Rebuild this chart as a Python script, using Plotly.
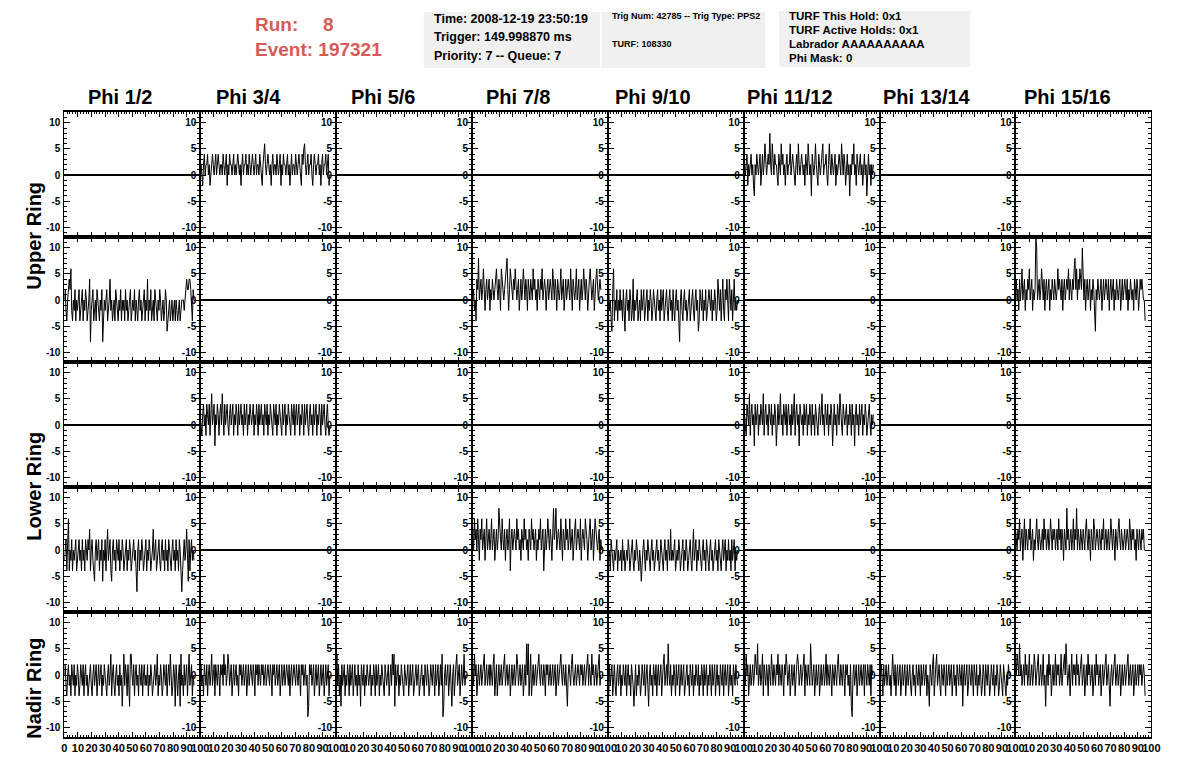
import numpy as np
import plotly.graph_objects as go

# ---------------- data ----------------
phi_labels = ["Phi 1/2", "Phi 3/4", "Phi 5/6", "Phi 7/8",
              "Phi 9/10", "Phi 11/12", "Phi 13/14", "Phi 15/16"]
ring_labels = ["Upper Ring", "Lower Ring", "Nadir Ring"]
x_tick_vals = [0, 10, 20, 30, 40, 50, 60, 70, 80, 90, 100]
y_tick_vals = [-10, -5, 0, 5, 10]
sample_ns = 0.6  # time step between samples (ns)

header_run = "8"
header_event = "197321"
info_box1 = ["Time: 2008-12-19 23:50:19", "Trigger: 149.998870 ms", "Priority: 7 -- Queue: 7"]
info_box2 = ["Trig Num: 42785 -- Trig Type: PPS2", "TURF: 108330"]
info_box3 = ["TURF This Hold: 0x1", "TURF Active Holds: 0x1", "Labrador AAAAAAAAAA", "Phi Mask: 0"]

# row 1 (upper ring, top antennas)
up_top_phi34 = [0,2,0,-2,2,4,0,2,2,4,0,2,-2,0,2,4,2,0,2,4,
                0,2,4,2,0,2,2,0,4,2,0,2,4,-2,2,0,4,2,2,0,
                2,4,0,2,0,2,4,2,0,2,-2,2,4,0,2,2,4,0,2,0,
                4,2,0,2,4,2,0,2,4,0,2,2,0,4,2,0,-2,2,4,6,
                2,0,2,4,2,0,2,-2,2,4,0,2,2,0,4,2,0,2,4,-2,
                2,0,4,2,2,0,2,4,0,2,-2,2,4,0,2,2,0,4,2,0,
                2,4,2,0,-2,4,2,5,6,2,0,2,4,0,2,2,4,0,-2,2,
                4,2,0,2,2,4,0,2,-2,2,4,0,2,2,4,0,2,4,-2,0]
up_top_phi1112 = [4,2,0,2,4,-2,2,0,2,4,0,2,-2,-4,2,0,4,2,0,2,
                  4,-2,2,4,0,2,6,2,0,2,4,2,8,2,0,6,2,0,4,2,
                  2,0,-2,4,2,0,6,2,4,0,2,-2,2,4,0,2,2,6,0,2,
                  4,2,0,-2,2,4,0,6,2,0,2,4,2,0,2,-2,4,2,0,6,
                  2,0,2,-4,4,2,0,2,6,2,0,-2,4,2,0,2,4,6,0,2,
                  2,4,0,-2,2,6,2,0,4,2,0,2,4,-2,2,0,2,4,2,0,
                  6,2,0,4,2,-2,2,4,0,2,-4,2,0,4,2,6,0,2,-2,4,
                  2,0,2,4,0,2,-2,2,4,0,2,-4,2,4,0,2,-2,2,0,2]
# row 2 (upper ring, bottom antennas)
up_bot_phi12 = [0,2,-2,-4,0,2,4,2,6,-2,-4,0,-2,2,-4,0,-2,0,2,-4,
                -2,0,2,-4,0,-2,2,0,-4,-2,0,4,-8,-2,0,2,-4,-2,0,-4,
                2,0,-2,-4,0,-2,2,-8,-4,0,-2,0,2,-4,-2,0,4,-2,0,-4,
                -2,0,-4,2,0,-2,-4,0,-2,2,-4,0,-2,0,-4,2,-2,0,-4,-2,
                0,2,-4,-2,0,-2,2,-4,0,-2,-4,0,2,-2,0,-4,-2,0,2,-4,
                0,-2,4,-4,0,-2,2,-4,-2,0,-4,2,0,-2,-4,0,-2,2,0,-4,
                -2,0,-4,-2,2,0,-6,-4,-2,0,-4,-2,0,-4,-2,0,-4,0,-2,-4,
                -2,0,-4,-2,0,0,0,-2,0,2,4,2,2,4,4,2,-2,-4,2,0]
up_bot_phi78 = [2,0,2,-2,0,-4,4,2,8,0,2,4,0,2,6,2,-2,2,4,0,
                2,4,-2,2,0,4,2,0,2,4,6,2,0,4,2,-2,6,4,2,0,
                2,4,6,8,2,-2,2,6,4,2,0,4,2,6,2,0,2,4,-2,2,
                4,0,2,6,2,0,4,2,-2,4,2,0,4,2,0,6,2,4,0,2,
                -2,4,2,0,4,2,6,0,2,4,2,-2,2,4,0,2,4,2,0,6,
                2,0,4,2,-2,4,2,0,2,6,0,2,4,-2,2,4,0,2,4,2,
                0,6,2,-2,4,2,0,2,6,0,2,4,-2,2,4,0,2,6,2,0,
                4,2,-2,2,4,6,2,0,2,4,-2,2,4,6,2,0,2,4,2,2]
up_bot_phi910 = [0,2,-2,0,-4,-6,2,6,-4,0,-2,2,-4,0,-2,2,-2,0,-4,2,
                 -2,-6,0,2,-2,0,-4,2,0,-4,-2,4,-4,0,-2,0,2,-4,-2,0,
                 -4,2,-2,0,2,-4,-2,0,2,-4,0,-2,2,0,-4,-2,2,0,-2,-4,
                 0,2,-2,0,-4,2,-2,0,2,-4,-2,0,2,-2,-4,0,2,-2,0,-4,
                 2,-2,-4,0,2,-2,0,-4,-8,0,2,-2,-4,0,2,-2,0,-4,-2,0,
                 2,-4,-2,0,2,-2,-4,0,2,-2,0,-6,-4,2,0,-2,2,-4,0,-2,
                 2,-4,-2,0,2,0,-2,2,-4,0,-2,2,0,-4,-2,4,0,-2,2,-4,
                 0,4,-2,-4,2,0,4,-2,-4,4,0,-2,2,-4,0,4,-2,0,-2,0]
up_bot_phi1516 = [2,4,0,2,-2,4,0,2,6,0,2,4,-2,2,0,4,2,6,0,2,
                  4,-2,2,0,2,12,10,0,2,4,0,2,6,2,0,4,-2,2,4,0,
                  2,4,-2,2,0,4,2,0,4,2,0,2,6,2,4,2,0,4,-2,2,
                  4,0,2,4,2,6,0,4,2,0,4,2,6,8,2,6,0,4,2,6,
                  4,2,10,2,0,4,-2,2,4,0,2,4,-2,2,0,4,2,-2,-6,2,
                  0,4,2,0,2,4,-2,2,4,0,2,4,2,0,4,-2,2,4,0,2,
                  4,-2,2,0,4,2,0,2,4,-2,2,4,0,2,4,2,0,4,-2,2,
                  0,4,2,0,2,-2,4,2,0,4,2,-2,2,4,2,4,2,0,0,-4]
# row 3 (lower ring, top antennas)
lo_top_phi34 = [2,0,-2,2,4,0,2,-2,4,2,0,4,-2,2,6,0,2,4,-4,2,
                0,4,2,-2,2,4,0,6,2,-2,4,0,2,4,0,-2,2,4,0,2,
                4,-2,2,0,4,2,-2,4,0,2,4,0,2,-2,4,0,2,4,-2,2,
                0,4,2,0,2,4,-2,2,0,4,2,-2,4,0,2,4,0,2,-2,4,
                2,0,4,-2,2,0,4,2,0,-2,4,2,0,4,-2,2,0,4,2,0,
                -2,4,0,2,4,-2,2,0,4,2,0,-2,4,2,0,4,-2,2,4,0,
                2,4,-2,2,0,4,2,-2,4,0,2,4,0,-2,2,4,0,2,-2,4,
                0,2,4,-2,2,0,4,2,-2,4,0,2,4,0,-2,2,4,0,-2,0]
lo_top_phi1112 = [4,2,0,-2,4,2,0,6,-2,2,4,0,2,-4,4,0,2,4,-2,2,
                  0,4,2,0,6,-2,2,4,0,2,-2,4,2,0,4,-2,2,0,4,2,
                  -4,2,4,0,2,6,0,2,-2,4,2,0,4,-2,2,4,0,2,-2,4,
                  0,2,6,-2,2,4,0,2,-4,4,2,0,2,-2,4,0,2,4,-2,2,
                  0,4,2,-2,4,0,2,-2,4,2,0,-2,2,4,0,2,6,0,2,-2,
                  4,2,0,4,-2,2,0,4,2,-4,2,4,0,2,-2,4,2,0,6,2,
                  0,-2,4,2,0,2,4,-2,2,0,4,2,-2,4,0,2,-4,2,4,0,
                  2,-2,4,0,2,4,-2,2,0,4,2,-2,0,2,4,0,-2,2,0,2]
# row 4 (lower ring, bottom antennas)
lo_bot_phi12 = [-2,0,2,-4,2,6,-4,0,-2,2,-4,0,-2,0,2,-4,-2,0,2,-2,
                0,-4,2,-2,0,-4,2,0,-2,2,0,4,-4,0,2,-2,-4,-6,0,2,
                -2,0,2,-4,0,-2,2,-6,0,-2,2,-4,0,4,-2,0,2,-4,-6,0,
                2,-2,0,-4,2,0,-2,2,-4,0,-2,2,0,-4,-2,0,2,-4,0,-2,
                2,0,-4,-2,0,2,-2,0,-4,-8,0,2,-4,0,-2,2,0,-4,-2,0,
                2,-4,0,-2,2,0,-4,-2,0,4,-2,0,2,-4,-2,0,2,-2,-4,0,
                2,-2,0,-4,2,-2,0,-4,2,0,-2,-4,0,2,-2,0,-4,2,-2,0,
                -4,2,0,-6,-8,-4,0,2,-2,0,4,-2,-6,2,-4,0,2,-2,0,-2]
lo_bot_phi78 = [2,4,0,6,2,4,0,6,2,-2,4,2,6,0,2,4,-2,2,6,0,
                2,4,0,2,6,0,2,4,-2,2,4,0,2,8,4,2,0,6,2,0,
                4,-2,2,4,0,2,6,-4,2,4,0,2,4,2,0,6,2,4,0,2,
                -2,4,2,0,6,2,4,0,2,-2,4,2,0,6,2,4,0,2,4,-2,
                2,0,4,2,6,0,2,4,-4,2,4,0,2,6,2,0,4,2,-2,4,
                8,2,4,8,0,2,4,2,0,6,2,-2,4,2,0,6,2,4,0,2,
                6,0,2,4,-2,2,4,6,0,2,4,2,0,6,-2,2,4,2,0,6,
                4,2,-2,2,4,6,0,2,4,-2,2,6,4,2,0,2,4,-2,2,0]
lo_bot_phi910 = [0,-2,0,-4,2,0,-2,-4,0,-2,0,2,-4,0,-2,-2,0,-4,2,-2,
                 0,-4,-2,0,-2,2,0,-4,-2,0,2,-2,-4,0,-2,2,0,-2,-4,0,
                 -2,-6,-2,0,2,-2,-4,0,-2,2,0,-2,-4,0,2,-2,0,-4,-2,0,
                 2,-2,0,-4,-2,2,0,-2,-4,0,2,-2,0,-4,2,0,-2,4,-2,0,
                 -2,0,2,-4,-2,0,-2,2,0,-4,-2,0,2,-4,0,-2,2,0,-4,-2,
                 0,2,-2,-4,0,4,-2,0,2,-4,0,-2,2,0,-2,-4,0,2,-2,0,
                 -4,2,0,-2,-4,0,2,-2,0,-4,-2,0,2,-2,0,-4,2,0,-2,-4,
                 0,2,-2,0,2,-4,0,-2,2,-2,0,-4,2,-2,0,2,-4,0,-2,0]
lo_bot_phi1516 = [4,2,0,4,2,6,0,2,4,-2,2,6,0,4,2,0,4,2,6,0,
                  2,4,-2,2,0,4,6,2,0,4,2,0,2,4,0,6,2,4,0,2,
                  4,0,2,6,2,0,4,2,4,0,2,4,0,6,2,4,0,4,2,-2,
                  4,2,0,8,2,4,0,2,4,0,2,6,0,4,2,8,0,4,2,0,
                  4,2,0,4,2,0,4,6,2,0,4,2,-2,4,2,0,6,4,0,2,
                  4,2,0,4,2,0,4,2,6,0,2,4,0,2,4,0,2,6,2,0,
                  4,2,-2,4,2,0,4,6,2,0,4,2,0,2,4,0,2,4,2,0,
                  6,2,0,4,2,4,0,2,-2,4,2,0,4,2,0,4,2,4,0,0]
# row 5 (nadir ring)
nadir_phi12 = [0,2,-2,-4,0,2,-2,0,-4,2,0,-2,2,-4,0,-2,2,0,-4,-2,
               2,0,-2,2,-4,0,2,-2,0,-4,-2,0,2,-2,-4,0,2,-2,0,2,
               -4,0,2,-2,0,2,-4,0,-2,2,0,-2,-4,0,2,-2,0,4,-4,0,
               2,-2,-4,0,2,-2,0,-4,2,-2,0,-6,0,4,-2,2,0,-4,2,-2,
               -6,4,4,0,-2,2,-4,0,2,-2,0,-4,2,0,-2,2,-4,0,2,-2,
               0,-2,2,-4,0,-2,2,0,-4,-2,0,2,-2,0,4,-4,0,-2,2,0,
               -4,-2,2,0,-2,2,-4,0,2,-2,4,0,-4,-2,2,0,-6,2,-2,-4,
               0,2,-6,4,-2,0,-4,2,-2,0,2,-4,0,4,-2,0,2,-4,0,-2]
nadir_phi34 = [0,2,-2,0,-4,2,0,-2,2,-4,0,2,-2,0,4,-2,0,2,-4,2,
               0,-2,2,0,-4,2,0,2,-2,4,0,2,-2,0,4,2,-2,0,2,-4,
               0,2,-2,0,2,-2,0,-4,2,0,2,-2,0,2,-2,0,2,-4,0,2,
               -2,0,2,0,-2,2,0,-4,2,0,2,-2,2,0,-2,2,0,2,-2,0,
               2,-2,0,2,0,-2,2,0,-4,2,0,2,-2,0,2,-2,0,2,-4,0,
               2,-2,0,2,-2,0,2,0,-2,2,-4,0,2,-2,0,2,0,-2,2,0,
               -2,2,0,-4,2,0,2,-2,0,2,-2,0,-8,-6,2,0,2,-2,0,2,
               -4,0,2,-2,0,2,-4,0,2,-2,0,2,-4,0,2,-2,0,2,-4,0]
nadir_phi56 = [0,4,-2,2,-4,0,-6,2,-2,0,2,-4,0,-2,2,0,-4,2,-2,0,
               2,-4,0,2,-2,0,-4,2,-2,0,-6,2,0,-2,2,-4,0,-2,2,0,
               -2,0,2,-4,0,-2,2,0,-4,2,-2,0,2,-4,0,-2,2,0,-2,-4,
               2,0,-2,0,2,-4,0,2,-2,4,0,4,-6,2,-2,0,2,-4,0,-2,
               2,0,-2,-4,2,0,-2,0,2,-4,0,2,-2,0,2,-4,-2,0,2,-2,
               0,2,-4,-2,0,2,-2,0,-4,2,0,-2,2,0,-4,-2,2,0,-2,2,
               0,-4,2,-2,0,2,-4,0,2,-2,4,-8,-6,0,2,-2,0,2,-4,0,
               2,-2,-6,0,2,-4,0,2,4,-2,0,2,-4,0,2,-2,0,4,-2,0]
nadir_phi78 = [0,2,-2,4,0,2,-4,0,2,-2,0,2,-2,0,2,4,-2,0,2,-2,
               0,2,-2,2,0,-2,2,4,-4,0,2,-4,0,2,-2,0,2,-2,0,2,
               4,-2,0,2,-2,0,2,-4,0,2,-2,0,2,-2,0,4,2,-2,0,2,
               -2,0,2,-4,0,2,-2,6,0,6,-4,2,4,-4,0,2,-2,0,2,-2,
               0,2,4,0,-2,2,0,-2,2,0,-4,2,0,2,-2,0,2,-2,0,2,
               -2,0,2,-4,0,2,-2,0,2,4,0,-2,2,0,-2,2,-4,-6,0,2,
               0,-2,2,4,0,-2,0,2,-2,0,2,0,-2,2,0,2,-2,0,2,-2,
               0,2,4,-2,2,0,-2,4,0,2,-2,0,2,-2,0,2,4,-2,0,0]
nadir_phi910 = [0,-4,2,-2,0,2,-4,0,2,-2,-4,0,2,-2,0,2,-4,0,-2,2,
                0,-2,2,-4,0,2,-2,0,-4,2,0,-2,-6,0,2,-4,0,-2,2,0,
                -4,-2,2,0,-2,2,-4,0,2,-2,-6,0,2,-2,0,-4,2,0,-2,2,
                -4,0,2,-2,0,2,-4,0,2,4,-2,0,2,-2,6,0,-2,2,-4,0,
                -2,2,0,-4,2,-2,0,2,-4,0,2,-2,0,2,-4,-2,0,2,-2,0,
                -4,2,0,-2,2,-4,0,-2,2,0,-2,2,-4,0,-2,2,0,-4,2,-2,
                0,2,-4,0,-2,2,0,-4,2,-2,0,2,-4,0,2,-2,0,-4,2,0,
                -2,2,-4,0,2,-2,0,2,-4,0,2,-2,0,-4,2,0,-2,2,0,-2]
nadir_phi1112 = [0,2,-2,4,0,2,-4,0,2,-2,0,2,-2,0,4,2,0,6,-2,0,
                 2,-2,0,4,-4,2,0,-2,2,0,-4,2,0,-2,4,0,-2,2,0,-2,
                 2,0,4,-2,2,0,-2,2,0,-4,2,0,4,2,-2,0,2,-4,0,2,
                 -2,0,2,-4,0,2,4,2,-2,0,2,-2,0,2,4,-4,2,0,-2,2,
                 0,-2,6,2,-2,0,2,-4,0,2,-2,0,2,-4,0,2,-2,0,2,-2,
                 0,4,-2,2,0,-2,2,0,-4,2,0,-2,2,0,-2,2,4,0,-2,2,
                 0,-2,2,0,-4,2,0,2,-2,0,-4,2,-6,-8,0,2,-2,0,2,-4,
                 0,2,-2,0,2,-2,0,2,-4,2,0,-2,2,0,-2,2,-4,2,0,0]
nadir_phi1314 = [0,-2,2,0,-4,2,-2,0,2,-2,0,2,-2,0,-4,2,4,0,-2,2,
                 -4,0,2,-2,0,2,-4,0,2,-2,0,2,-4,0,2,-2,0,2,-2,-4,
                 0,2,-2,0,-4,2,0,-2,2,0,-4,2,-2,0,2,-2,0,2,-4,0,
                 -2,-6,2,0,-2,2,4,-4,0,2,4,-2,0,2,-2,-4,2,0,-2,2,
                 0,-4,2,-2,0,2,-2,0,2,-4,0,2,-2,0,-4,2,0,-2,2,0,
                 -2,2,-6,0,2,-2,0,2,-4,-2,2,0,-2,2,0,-4,2,0,-2,2,
                 -4,0,-2,2,0,-4,-2,2,0,-4,2,0,-2,2,0,-4,-2,2,0,-2,
                 2,-4,0,-2,2,0,-4,-2,2,0,-2,-4,2,0,-2,-4,0,-2,2,0]
nadir_phi1516 = [2,0,4,2,0,6,0,2,-2,0,2,-2,4,0,2,-2,0,4,-2,0,
                 2,-2,0,4,2,-2,0,2,4,-2,0,2,-2,0,4,-2,0,-6,0,2,
                 -2,4,0,2,-4,0,2,-2,0,4,-2,2,0,2,-2,0,4,-2,0,2,
                 4,0,6,2,-2,0,2,-4,0,4,-2,2,0,2,-2,4,0,2,-2,0,
                 2,4,-2,0,2,-4,0,2,-2,4,0,2,-2,0,2,-4,0,2,-2,4,
                 0,2,-2,0,2,-4,0,2,-2,0,2,4,-2,0,2,-2,-6,0,2,-2,
                 0,2,4,-2,0,2,-2,0,2,-4,0,2,-2,0,2,-2,0,2,4,-2,
                 0,2,-2,0,2,-4,0,2,-2,0,2,-2,2,0,2,-2,0,2,0,-4]

# grid of channels: None = empty channel (flat)
grid = [
    [None, up_top_phi34, None, None, None, up_top_phi1112, None, None],
    [up_bot_phi12, None, None, up_bot_phi78, up_bot_phi910, None, None, up_bot_phi1516],
    [None, lo_top_phi34, None, None, None, lo_top_phi1112, None, None],
    [lo_bot_phi12, None, None, lo_bot_phi78, lo_bot_phi910, None, None, lo_bot_phi1516],
    [nadir_phi12, nadir_phi34, nadir_phi56, nadir_phi78,
     nadir_phi910, nadir_phi1112, nadir_phi1314, nadir_phi1516],
]

# ---------------- layout ----------------
W, H = 1196, 772
FONT = "Liberation Sans, Arial, Helvetica, sans-serif"
left0, colw = 62.0, 137.25
top0, rowh = 112.0, 125.0
nrows, ncols = 5, 8

def px_x(p):
    return p / W

def px_y(p):
    return 1 - p / H

fig = go.Figure()
layout = dict(
    width=W, height=H,
    margin=dict(l=0, r=0, t=0, b=0),
    paper_bgcolor="white", plot_bgcolor="white",
    showlegend=False,
    font=dict(family=FONT, color="black"),
)

for r in range(nrows):
    for c in range(ncols):
        n = r * ncols + c + 1
        xa = "x" if n == 1 else f"x{n}"
        ya = "y" if n == 1 else f"y{n}"
        xkey = "xaxis" if n == 1 else f"xaxis{n}"
        ykey = "yaxis" if n == 1 else f"yaxis{n}"
        wf = grid[r][c]
        flat = wf is None
        if flat:
            fig.add_trace(go.Scatter(x=[], y=[], xaxis=xa, yaxis=ya, mode="lines"))
        else:
            vals = np.array(wf, dtype=float)
            t = np.arange(len(vals)) * sample_ns
            fig.add_trace(go.Scatter(
                x=t, y=vals, xaxis=xa, yaxis=ya, mode="lines",
                line=dict(color="black", width=1),
                hoverinfo="skip"))
        x0 = left0 + c * colw
        y0 = top0 + r * rowh
        xt = x_tick_vals if c == 0 else x_tick_vals[1:]
        layout[xkey] = dict(
            domain=[px_x(x0), px_x(x0 + colw)],
            anchor=ya, range=[0, 100],
            showline=True, linecolor="black", linewidth=1.5, mirror="ticks",
            ticks="inside", ticklen=5, tickcolor="black", tickwidth=1,
            tickvals=xt, ticktext=[str(v) for v in xt],
            showticklabels=(r == nrows - 1), tickangle=0,
            tickfont=dict(family=FONT, size=11, weight="bold", color="black"),
            minor=dict(dtick=2, ticklen=2.5, ticks="inside", tickcolor="black", tickwidth=1),
            showgrid=False, zeroline=False, fixedrange=True,
        )
        layout[ykey] = dict(
            domain=[px_y(y0 + rowh), px_y(y0)],
            anchor=xa, range=[-11.9, 12.1],
            showline=True, linecolor="black", linewidth=1, mirror="ticks",
            ticks="inside", ticklen=6, tickcolor="black", tickwidth=1,
            tickvals=y_tick_vals, ticktext=[str(v) for v in y_tick_vals],
            ticklabelstandoff=1,
            tickfont=dict(family=FONT, size=10, weight="bold", color="black"),
            minor=dict(dtick=1, ticklen=3, ticks="inside", tickcolor="black", tickwidth=1),
            showgrid=False,
            zeroline=flat, zerolinecolor="black", zerolinewidth=1.5,
            fixedrange=True,
        )

annotations = []
shapes = []

# column titles
title_x = [118, 248, 384, 520, 657, 795, 933, 1075]
for lab, xc in zip(phi_labels, title_x):
    annotations.append(dict(
        text=lab, x=px_x(xc), y=px_y(97), xref="paper", yref="paper",
        xanchor="center", yanchor="middle", showarrow=False,
        font=dict(family=FONT, size=20, weight="bold", color="black")))

# ring labels
ring_y = [236, 486, 688]
for lab, yc in zip(ring_labels, ring_y):
    annotations.append(dict(
        text=lab, x=px_x(31), y=px_y(yc), xref="paper", yref="paper",
        xanchor="center", yanchor="middle", showarrow=False, textangle=-90,
        font=dict(family=FONT, size=20, weight="bold", color="black")))

# header (run / event)
red = "#d65a5a"
annotations.append(dict(text="Run:", x=px_x(253), y=px_y(24), xref="paper", yref="paper",
                        xanchor="left", yanchor="middle", showarrow=False,
                        font=dict(family=FONT, size=19, weight="bold", color=red)))
annotations.append(dict(text=header_run, x=px_x(336), y=px_y(24), xref="paper", yref="paper",
                        xanchor="right", yanchor="middle", showarrow=False,
                        font=dict(family=FONT, size=19, weight="bold", color=red)))
annotations.append(dict(text="Event: " + header_event, x=px_x(253), y=px_y(49), xref="paper",
                        yref="paper", xanchor="left", yanchor="middle", showarrow=False,
                        font=dict(family=FONT, size=19, weight="bold", color=red)))

# info boxes
boxes = [
    (425, 603, 12, 68, info_box1, [19, 37, 56], 12.5, 433),
    (605, 770, 12, 68, info_box2, [16, 44], 9, 613),
    (784, 977, 11, 67, info_box3, [16, 30, 44, 58], 11.5, 792),
]
for bx0, bx1, by0, by1, lines, ys, fs, tx in boxes:
    shapes.append(dict(type="rect", xref="paper", yref="paper",
                       x0=px_x(bx0), x1=px_x(bx1), y0=px_y(by1), y1=px_y(by0),
                       fillcolor="#f0f0f0", line=dict(width=0), layer="below"))
    for txt, yy in zip(lines, ys):
        annotations.append(dict(text=txt, x=px_x(tx), y=px_y(yy), xref="paper", yref="paper",
                                xanchor="left", yanchor="middle", showarrow=False,
                                font=dict(family=FONT, size=fs, weight="bold", color="black")))

layout["annotations"] = annotations
layout["shapes"] = shapes
fig.update_layout(**layout)
fig.write_html(
    "out.html",
    config={"displayModeBar": False},
    post_script="document.body.style.margin='0px';document.body.style.overflow='hidden';",
)
